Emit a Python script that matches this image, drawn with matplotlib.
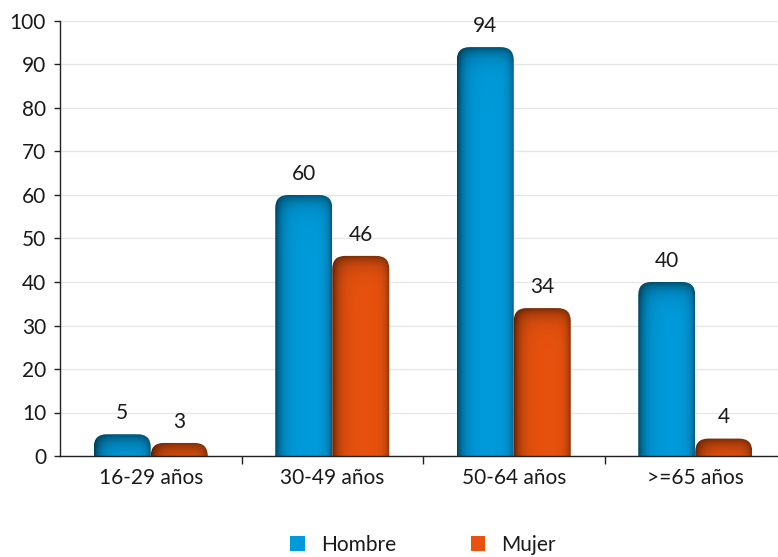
import numpy as np
import matplotlib
matplotlib.use("Agg")
import matplotlib.pyplot as plt
from matplotlib.patches import FancyBboxPatch, Patch
from matplotlib.colors import to_rgb

categories = ["16-29 años", "30-49 años", "50-64 años", ">=65 años"]
hombre = [5, 60, 94, 40]
mujer = [3, 46, 34, 4]
series_names = ["Hombre", "Mujer"]
colors = ["#009ADA", "#E8520E"]

plt.rcParams['font.family'] = ['Lato', 'DejaVu Sans']
txt_color = "#1a1a1a"
fs = 15

W, H = 778, 557
fig = plt.figure(figsize=(W / 100, H / 100), dpi=100)
ax_left, ax_right, ax_top, ax_bottom = 60, 786, 21, 456
ax = fig.add_axes([ax_left / W, (H - ax_bottom) / H,
                   (ax_right - ax_left) / W, (ax_bottom - ax_top) / H])

n = len(categories)
x = np.arange(n)
ax.set_xlim(-0.5, n - 0.5)
ax.set_ylim(0, 100)

ax.set_yticks(np.arange(0, 101, 10))
ax.yaxis.grid(True, color="#e6e6e6", lw=1)
ax.set_axisbelow(True)
for s in ["top", "right"]:
    ax.spines[s].set_visible(False)
for s in ["left", "bottom"]:
    ax.spines[s].set_color("#222222")
    ax.spines[s].set_linewidth(1)
ax.tick_params(axis="y", length=4, width=1, color="#222222", labelsize=fs,
               labelcolor=txt_color, pad=6)
ax.set_xticks(x)
ax.set_xticklabels(categories)
ax.tick_params(axis="x", which="major", length=0, labelsize=fs,
               labelcolor=txt_color, pad=9)
ax.set_xticks(np.arange(0.5, n - 0.5, 1), minor=True)
ax.tick_params(axis="x", which="minor", length=6, width=1, color="#222222",
               direction="out")

fig.canvas.draw()
p0 = ax.transData.transform((0, 0))
p1 = ax.transData.transform((1, 1))
ppu_x = p1[0] - p0[0]
ppu_y = p1[1] - p0[1]

bw = 57 / ppu_x
rad_px = 13
rx = rad_px / ppu_x
ry = rad_px / ppu_y


def draw_bar(x0, h, color):
    base = np.array(to_rgb(color))
    patch = FancyBboxPatch((x0, -ry), bw, h + ry,
                           boxstyle=f"round,pad=0,rounding_size={rx}",
                           mutation_aspect=ry / rx,
                           facecolor="none", edgecolor="none")
    ax.add_patch(patch)
    nx = 120
    hp = max(int(h * ppu_y), 2)
    u = (np.arange(nx) + 0.5) / nx
    d = np.arange(hp) + 0.5  # px from top
    sx = 1 - 0.6 * np.exp(-u / 0.11) - 0.45 * np.exp(-(1 - u) / 0.07)
    sy = 1 - 0.5 * np.exp(-d / 8.0)
    shade = sy[:, None] * sx[None, :]
    img = np.clip(base[None, None, :] * shade[:, :, None], 0, 1)
    im = ax.imshow(img, extent=(x0, x0 + bw, 0, h), origin="upper",
                   aspect="auto", interpolation="bilinear", zorder=2)
    im.set_clip_path(patch)


for i in range(n):
    for j, (vals, col) in enumerate(zip([hombre, mujer], colors)):
        x0 = x[i] - bw + j * bw
        draw_bar(x0, vals[i], col)
        ax.annotate(str(vals[i]), (x0 + bw / 2, vals[i]), xytext=(0, 8),
                    textcoords="offset points", ha="center", va="bottom",
                    fontsize=fs, color=txt_color)

ax.set_xlim(-0.5, n - 0.5)
ax.set_ylim(0, 100)

handles = [Patch(facecolor=c, edgecolor="none") for c in colors]
fig.legend(handles, series_names, loc="center",
           bbox_to_anchor=((ax_left + ax_right) / 2 / W, (H - 545) / H),
           ncol=2, frameon=False, fontsize=fs, handlelength=0.7, handleheight=0.7,
           handletextpad=0.75, columnspacing=3.6, labelcolor=txt_color)

fig.savefig("out.png", dpi=100)
